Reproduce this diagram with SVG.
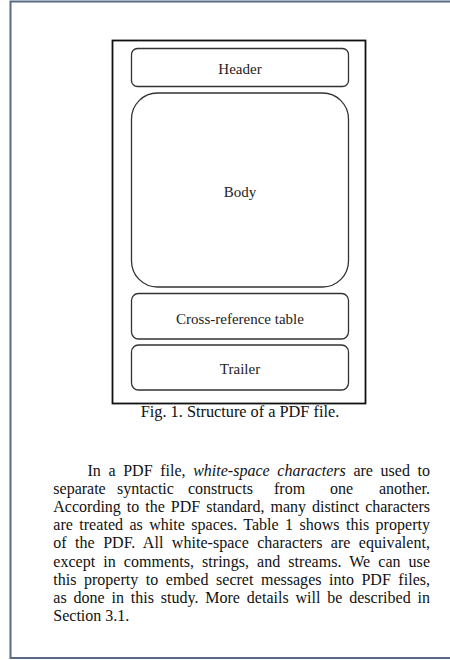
<svg xmlns="http://www.w3.org/2000/svg" width="450" height="660" viewBox="0 0 450 660">
<style>
.box{fill:#fff;stroke:#333;stroke-width:1.3}
.lbl{font-family:"Liberation Serif","Times New Roman",serif;font-size:15px;fill:#222;text-anchor:middle}
.cap{font-family:"Liberation Serif","Times New Roman",serif;font-size:16.3px;fill:#111;text-anchor:middle}
.p{font-family:"Liberation Serif","Times New Roman",serif;font-size:16px;fill:#111}
</style>
<rect x="0" y="0" width="450" height="660" fill="#fff"/>
<rect x="10.5" y="1.5" width="460" height="656.5" fill="none" stroke="#5b6a85" stroke-width="2"/>
<g id="frame">
<rect x="112.5" y="40.5" width="253" height="363" fill="none" stroke="#111" stroke-width="1.8"/>
</g>
<g id="header">
<rect class="box" x="131.5" y="48.5" width="217" height="38" rx="6"/>
<text class="lbl" x="240" y="73.5">Header</text>
</g>
<g id="body">
<rect class="box" x="131.5" y="93" width="217" height="194" rx="26"/>
<text class="lbl" x="240" y="196.5">Body</text>
</g>
<g id="xref">
<rect class="box" x="131.5" y="293.5" width="217" height="45.5" rx="7"/>
<text class="lbl" x="240" y="323.5">Cross-reference table</text>
</g>
<g id="trailer">
<rect class="box" x="131.5" y="345" width="217" height="45" rx="7"/>
<text class="lbl" x="240" y="373.5">Trailer</text>
</g>
<g id="connectors"></g>
<text class="cap" x="240" y="416.5">Fig. 1. Structure of a PDF file.</text>
<g id="paragraph">
<text class="p" x="87.5" y="476" word-spacing="3.6" textLength="342.5" lengthAdjust="spacing">In a PDF file, <tspan font-style="italic">white-space characters</tspan> are used to</text>
<text class="p" y="494"><tspan x="53.3">separate</tspan><tspan x="117">syntactic</tspan><tspan x="188">constructs</tspan><tspan x="274">from</tspan><tspan x="330">one</tspan></text>
<text class="p" x="430" y="494" text-anchor="end">another.</text>
<text class="p" x="53.3" y="512" word-spacing="2" textLength="376.7" lengthAdjust="spacing">According to the PDF standard, many distinct characters</text>
<text class="p" x="53.3" y="530" word-spacing="2.3" textLength="376.7" lengthAdjust="spacing">are treated as white spaces. Table 1 shows this property</text>
<text class="p" x="53.3" y="548.2" word-spacing="4.3" textLength="376.7" lengthAdjust="spacing">of the PDF. All white-space characters are equivalent,</text>
<text class="p" x="53.3" y="566.5" word-spacing="4" textLength="376.7" lengthAdjust="spacing">except in comments, strings, and streams. We can use</text>
<text class="p" x="53.3" y="584.8" word-spacing="3.5" textLength="376.7" lengthAdjust="spacing">this property to embed secret messages into PDF files,</text>
<text class="p" x="53.3" y="602.7" word-spacing="2.7" textLength="376.7" lengthAdjust="spacing">as done in this study. More details will be described in</text>
<text class="p" x="53.3" y="620.7">Section 3.1.</text>
</g>
</svg>
